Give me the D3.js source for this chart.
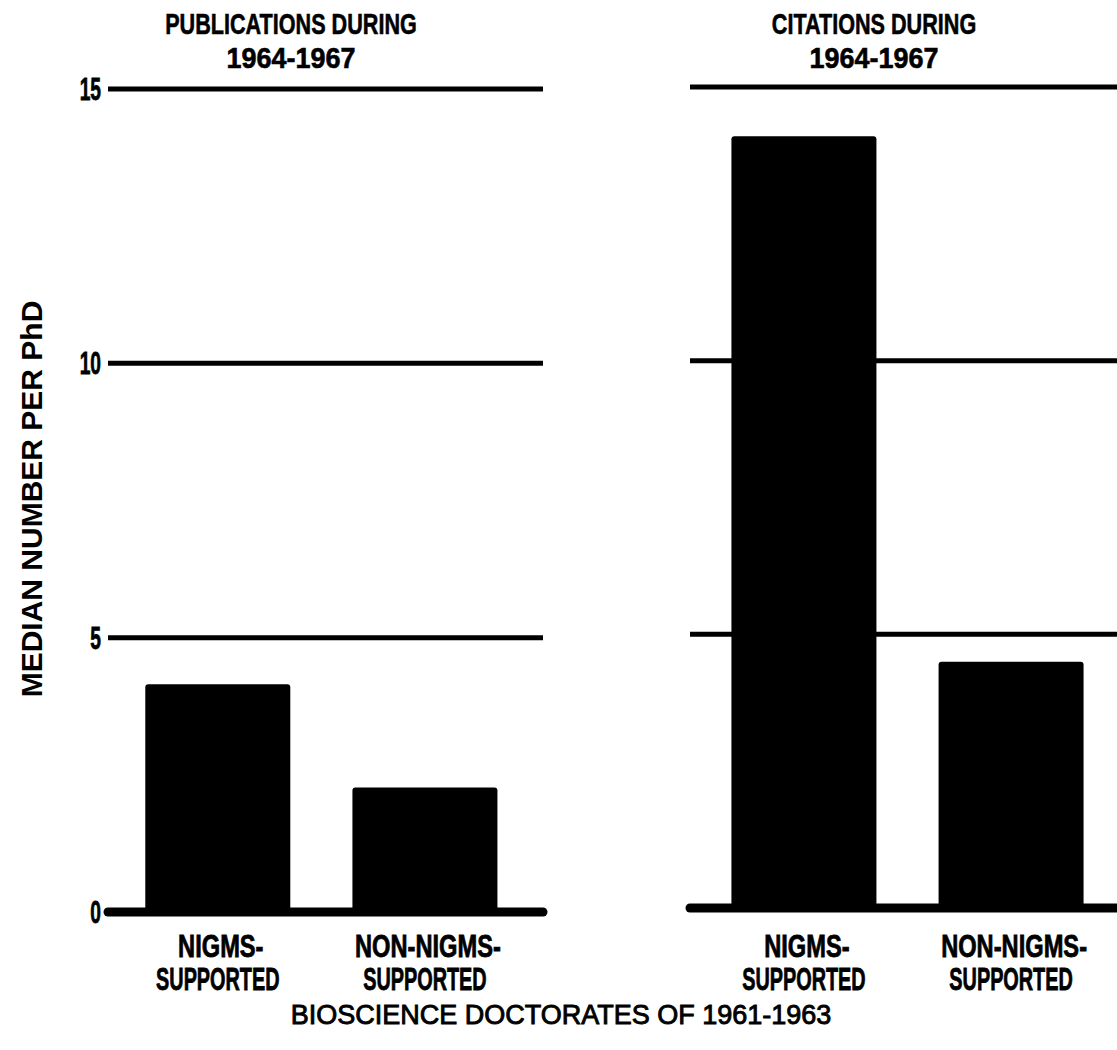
<!DOCTYPE html>
<html>
<head>
<meta charset="utf-8">
<script src="https://cdn.jsdelivr.net/npm/d3@7"></script>
<style>
  body { margin: 0; background: #fff; }
  svg { display: block; }
</style>
</head>
<body>
<svg id="chart"></svg>
<script>
// Chart data
const categories = ["NIGMS-SUPPORTED", "NON-NIGMS-SUPPORTED"];
const categoryLines = [["NIGMS-", "SUPPORTED"], ["NON-NIGMS-", "SUPPORTED"]];
const publications = [4.15, 2.27];
const citations = [14.1, 4.5];
const yTicks = [0, 5, 10, 15];
const panelTitles = [["PUBLICATIONS DURING", "1964-1967"], ["CITATIONS DURING", "1964-1967"]];
const yTitle = "MEDIAN NUMBER PER PhD";
const xTitle = "BIOSCIENCE DOCTORATES OF 1961-1963";

const width = 1117;
const height = 1050;

const svg = d3.select("#chart")
  .attr("width", width)
  .attr("height", height);

const condensed = "'Liberation Sans', Arial, sans-serif";

// Panel layout
const panels = [
  { values: publications, titles: panelTitles[0], x0: 108, x1: 543, top: 89, base: 912, ticks: true, titleX: 291, align: 0.45 },
  { values: citations, titles: panelTitles[1], x0: 690, x1: 1125, top: 87, base: 908, ticks: false, titleX: 874, align: 0.5 }
];

panels.forEach(function(p) {
  const x = d3.scaleBand()
    .domain(categories)
    .range([p.x0, p.x1])
    .paddingInner(0.3)
    .paddingOuter(0.2)
    .align(p.align);

  const y = d3.scaleLinear()
    .domain([0, 15])
    .range([p.base, p.top]);

  const g = svg.append("g");

  // Grid lines (behind bars)
  g.selectAll(".grid")
    .data(yTicks.filter(d => d > 0))
    .enter()
    .append("line")
    .attr("class", "grid")
    .attr("x1", p.x0)
    .attr("x2", Math.min(p.x1, width))
    .attr("y1", d => y(d))
    .attr("y2", d => y(d))
    .attr("stroke", "#000")
    .attr("stroke-width", 5);

  // Bars
  g.selectAll(".bar")
    .data(p.values)
    .enter()
    .append("rect")
    .attr("class", "bar")
    .attr("x", (d, i) => x(categories[i]))
    .attr("width", x.bandwidth())
    .attr("y", d => y(d))
    .attr("height", d => y(0) - y(d))
    .attr("rx", 3)
    .attr("fill", "#000");

  // Baseline
  g.append("line")
    .attr("x1", p.x0)
    .attr("x2", Math.min(p.x1, width + 10))
    .attr("y1", y(0))
    .attr("y2", y(0))
    .attr("stroke", "#000")
    .attr("stroke-width", 9)
    .attr("stroke-linecap", "round");

  // Tick labels
  if (p.ticks) {
    g.selectAll(".tick-label")
      .data(yTicks)
      .enter()
      .append("text")
      .attr("class", "tick-label")
      .attr("transform", d => `translate(101,${y(d) + 11}) scale(0.6,1)`)
      .attr("text-anchor", "end")
      .style("font-family", condensed)
      .style("font-weight", "bold")
      .style("font-size", "32px")
      .style("stroke", "#000")
      .style("stroke-width", 0.8)
      .text(d => d);
  }

  // Category labels
  categoryLines.forEach(function(lines, i) {
    const cx = x(categories[i]) + x.bandwidth() / 2;
    lines.forEach(function(line, j) {
      g.append("text")
        .attr("transform", `translate(${cx + (j === 0 ? 3 : 0)},${957 + j * 33}) scale(${j === 0 ? 0.74 : 0.62},1)`)
        .attr("text-anchor", "middle")
        .style("font-family", condensed)
        .style("font-weight", "bold")
        .style("font-size", "32px")
        .style("stroke", "#000")
        .style("stroke-width", 0.8)
        .text(line);
    });
  });

  // Panel titles
  p.titles.forEach(function(line, j) {
    g.append("text")
      .attr("transform", `translate(${p.titleX},${34 + j * 34}) scale(${j === 0 ? 0.745 : 0.93},1)`)
      .attr("text-anchor", "middle")
      .style("font-family", condensed)
      .style("font-weight", "bold")
      .style("font-size", "29px")
      .style("stroke", "#000")
      .style("stroke-width", 0.6)
      .text(line);
  });
});

// Axis titles
svg.append("text")
  .attr("transform", "translate(42,499) rotate(-90)")
  .attr("text-anchor", "middle")
  .style("font-family", "'Liberation Sans', Arial, sans-serif")
  .style("font-weight", "bold")
  .style("font-size", "30px")
  .text(yTitle);

svg.append("text")
  .attr("x", 561)
  .attr("y", 1024)
  .attr("text-anchor", "middle")
  .style("font-family", "'Liberation Sans', Arial, sans-serif")
  .style("font-size", "27px")
  .style("stroke", "#000")
  .style("stroke-width", 0.9)
  .text(xTitle);
</script>
</body>
</html>
